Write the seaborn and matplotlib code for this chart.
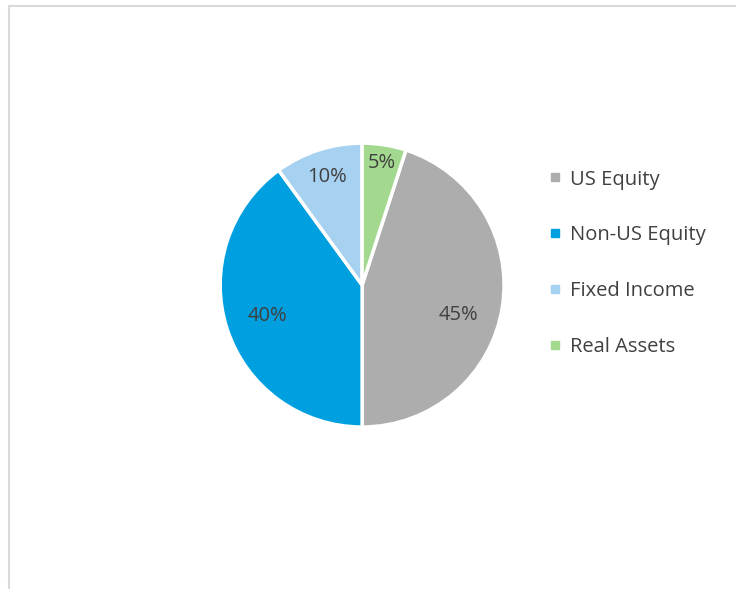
import matplotlib
matplotlib.use("Agg")
import matplotlib.pyplot as plt
import seaborn as sns
from matplotlib.lines import Line2D
import numpy as np

# allocation data
categories = ["US Equity", "Non-US Equity", "Fixed Income", "Real Assets"]
shares = [45, 40, 10, 5]
colors = ["#ADADAD", "#009FDF", "#A7D1F0", "#A3D98F"]
label_dist = [0.71, 0.70, 0.80, 0.87]
label_shift = [-8, 0, 0, 0]  # degrees, Excel "best fit" nudges

sns.set_theme(style="white")
plt.rcParams["font.family"] = ["Open Sans", "DejaVu Sans"]

fig = plt.figure(figsize=(7.36, 5.89), dpi=100)
ax = fig.add_axes([0.299, 0.275, 0.386, 0.482])

wedges, _ = ax.pie(shares, colors=colors, startangle=72, counterclock=False,
                   radius=1, wedgeprops=dict(edgecolor="white", linewidth=2.5))
ax.set_xlim(-1, 1)
ax.set_ylim(-1, 1)
ax.set_aspect("equal")
ax.axis("off")

# percent labels near wedge mid-angles
for w, v, d, s in zip(wedges, shares, label_dist, label_shift):
    ang = np.deg2rad((w.theta1 + w.theta2) / 2 + s)
    ax.text(d * np.cos(ang), d * np.sin(ang), f"{v}%", ha="center", va="center",
            fontsize=14.5, color="#404040")

handles = [Line2D([], [], marker="s", linestyle="none", markersize=6,
                  markerfacecolor=c, markeredgecolor=c) for c in colors]
fig.legend(handles, categories, loc="center left", bbox_to_anchor=(0.721, 0.553),
           frameon=False, fontsize=14.5, labelcolor="#404040", handlelength=0.6,
           handletextpad=0.45, labelspacing=1.78)

# chart area border (top and left edges visible)
fig.add_artist(Line2D([8.5 / 736, 1], [1 - 5.5 / 589] * 2, transform=fig.transFigure,
                      color="#D9D9D9", linewidth=1.5))
fig.add_artist(Line2D([8.5 / 736] * 2, [0, 1 - 5.5 / 589], transform=fig.transFigure,
                      color="#D9D9D9", linewidth=1.5))

fig.savefig("out.png", dpi=100, facecolor="white")
